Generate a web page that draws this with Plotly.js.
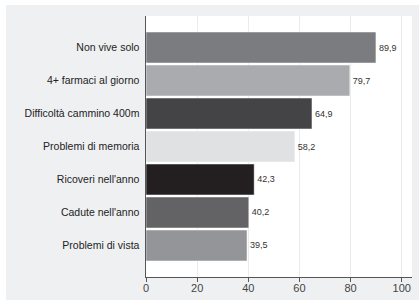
<!DOCTYPE html>
<html>
<head>
<meta charset="utf-8">
<script src="https://cdn.plot.ly/plotly-3.0.1.min.js"></script>
<style>
html,body{margin:0;padding:0;background:#ffffff;width:419px;height:305px;overflow:hidden;}
#chart{position:absolute;left:6px;top:5px;width:413px;height:295px;}
</style>
</head>
<body>
<div id="chart"></div>
<script>
const categories = ["Non vive solo","4+ farmaci al giorno","Difficoltà cammino 400m","Problemi di memoria","Ricoveri nell'anno","Cadute nell'anno","Problemi di vista"];
const values = [89.9, 79.7, 64.9, 58.2, 42.3, 40.2, 39.5];
const barColors = ["#7b7c80","#aaabae","#444446","#e0e1e3","#231f20","#636365","#949598"];
const xTicks = [0, 20, 40, 60, 80, 100];

const trace = {
  type: 'bar',
  orientation: 'h',
  x: values,
  y: categories,
  marker: {color: barColors, line: {color: '#ffffff', width: 0.5}},
  texttemplate: '%{x:.1f}',
  textposition: 'outside',
  cliponaxis: false,
  textfont: {family: 'Liberation Sans, Arial, sans-serif', size: 9, color: '#333333'},
  hoverinfo: 'none'
};

const layout = {
  width: 413,
  height: 295,
  margin: {l: 140, r: 7, t: 11, b: 23, pad: 0},
  paper_bgcolor: '#eff0f2',
  plot_bgcolor: '#ffffff',
  separators: ',.',
  showlegend: false,
  bargap: 0.06,
  font: {family: 'Liberation Sans, Arial, sans-serif', size: 12, color: '#333333'},
  xaxis: {
    range: [0, 104],
    tickvals: xTicks,
    ticktext: xTicks.map(String),
    showgrid: true,
    gridcolor: '#ebebeb',
    gridwidth: 1,
    zeroline: false,
    showline: true,
    linecolor: '#555555',
    linewidth: 1,
    ticks: 'outside',
    ticklen: 4,
    tickcolor: '#555555',
    ticklabelstandoff: -3,
    tickfont: {size: 11, color: '#444444'},
    fixedrange: true
  },
  yaxis: {
    range: [6.955, -0.955],
    type: 'category',
    showgrid: false,
    zeroline: false,
    showline: true,
    linecolor: '#555555',
    linewidth: 1.5,
    ticks: '',
    ticklabelstandoff: 3,
    tickfont: {size: 10.5, color: '#222222'},
    fixedrange: true
  }
};

Plotly.newPlot('chart', [trace], layout, {displayModeBar: false, staticPlot: true});
</script>
</body>
</html>
